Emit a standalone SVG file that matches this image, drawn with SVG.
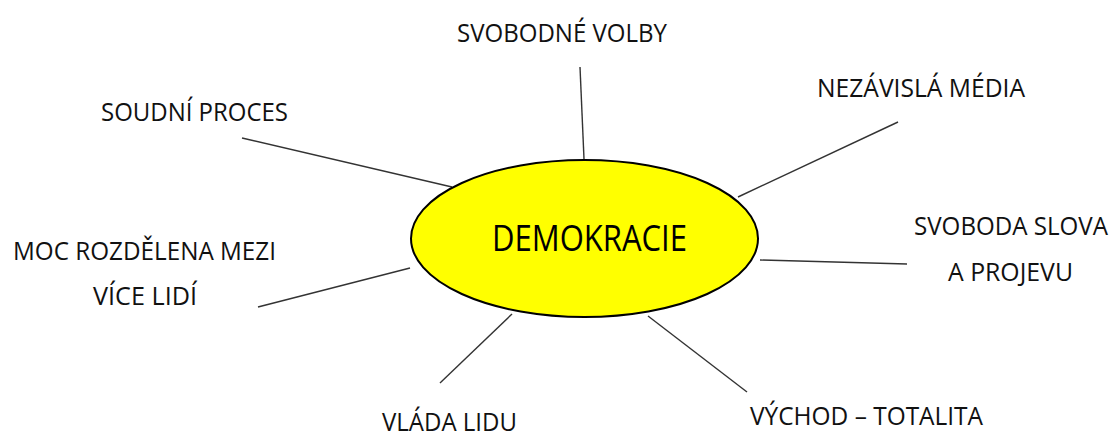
<svg xmlns="http://www.w3.org/2000/svg" width="1114" height="435" viewBox="0 0 1114 435">
<style>
.lbl{font-family:"Open Sans","Liberation Sans",sans-serif;font-size:26px;fill:#111}
.main{font-family:"Open Sans","Liberation Sans",sans-serif;font-size:37px;fill:#000}
.conn line{stroke:#333;stroke-width:1.4}
</style>
<rect width="1114" height="435" fill="#fff"/>
<g id="connectors" class="conn">
<line x1="580" y1="67" x2="584" y2="159"/>
<line x1="242" y1="138" x2="452" y2="187"/>
<line x1="898" y1="122" x2="738" y2="197"/>
<line x1="760" y1="260" x2="907" y2="264"/>
<line x1="258" y1="307" x2="410" y2="268"/>
<line x1="440" y1="383" x2="512" y2="314"/>
<line x1="648" y1="316" x2="747" y2="392"/>
</g>
<g id="center">
<ellipse cx="584.5" cy="238.5" rx="173.5" ry="78.5" fill="#ffff00" stroke="#000" stroke-width="2"/>
<text class="main" x="492" y="250.5" textLength="195" lengthAdjust="spacingAndGlyphs">DEMOKRACIE</text>
</g>
<g id="svobodne-volby"><text class="lbl" x="457" y="42" textLength="210" lengthAdjust="spacingAndGlyphs">SVOBODNÉ VOLBY</text></g>
<g id="soudni-proces"><text class="lbl" x="101" y="121" textLength="187" lengthAdjust="spacingAndGlyphs">SOUDNÍ PROCES</text></g>
<g id="nezavisla-media"><text class="lbl" x="817" y="97" textLength="208" lengthAdjust="spacingAndGlyphs">NEZÁVISLÁ MÉDIA</text></g>
<g id="svoboda-slova">
<text class="lbl" x="914" y="235" textLength="194" lengthAdjust="spacingAndGlyphs">SVOBODA SLOVA</text>
<text class="lbl" x="948" y="281" textLength="125" lengthAdjust="spacingAndGlyphs">A PROJEVU</text>
</g>
<g id="moc-rozdelena">
<text class="lbl" x="13" y="260" textLength="263" lengthAdjust="spacingAndGlyphs">MOC ROZDĚLENA MEZI</text>
<text class="lbl" x="93" y="305" textLength="104" lengthAdjust="spacingAndGlyphs">VÍCE LIDÍ</text>
</g>
<g id="vlada-lidu"><text class="lbl" x="382" y="431" textLength="135" lengthAdjust="spacingAndGlyphs">VLÁDA LIDU</text></g>
<g id="vychod-totalita"><text class="lbl" x="750" y="425" textLength="233" lengthAdjust="spacingAndGlyphs">VÝCHOD – TOTALITA</text></g>
</svg>
